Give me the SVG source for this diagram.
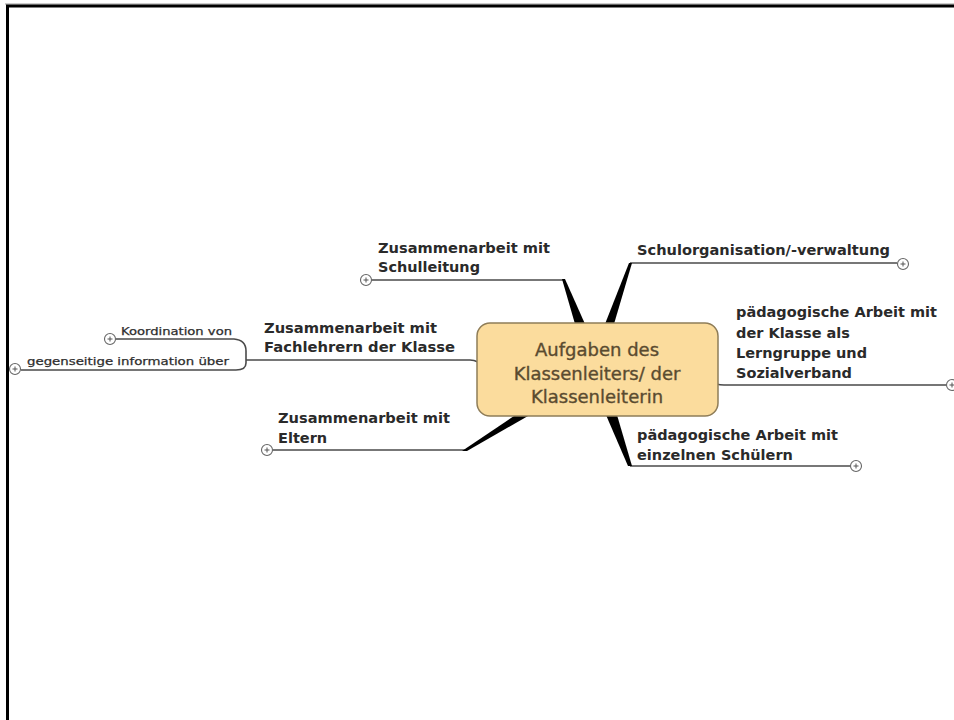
<svg xmlns="http://www.w3.org/2000/svg" width="954" height="720" viewBox="0 0 954 720">
<style>
  .lbl { font-family: "DejaVu Sans", Verdana, sans-serif; font-size: 14.5px; font-weight: bold; fill: #2a2a2a; }
  .sm { font-family: "DejaVu Sans", Verdana, sans-serif; font-size: 10.5px; fill: #2e2e2e; stroke: #2e2e2e; stroke-width: 0.25; }
  .ctr { font-family: "DejaVu Sans", Verdana, sans-serif; font-size: 18px; fill: #5a4b30; stroke: #5a4b30; stroke-width: 0.35; text-anchor: middle; }
  .br { fill: none; stroke: #4a4a4a; stroke-width: 1.6; }
  .wedge { fill: #000; }
  .pl { fill: #fff; stroke: #666; stroke-width: 1.1; }
  .plx { stroke: #555; stroke-width: 1; }
</style>
<defs>
  <g id="plus">
    <circle class="pl" cx="0" cy="0" r="5.5"/>
    <path class="plx" d="M-2.5,0 H2.5 M0,-2.5 V2.5"/>
  </g>
</defs>
<rect x="0" y="0" width="954" height="720" fill="#fff"/>
<g id="frame">
  <line x1="5" y1="4" x2="954" y2="4" stroke="#999" stroke-width="1"/>
  <line x1="6" y1="6" x2="954" y2="6" stroke="#000" stroke-width="3"/>
  <line x1="7.5" y1="5" x2="7.5" y2="720" stroke="#000" stroke-width="3"/>
</g>
<g id="connectors">
  <path class="br" d="M371,280 H563"/>
  <polygon class="wedge" points="562,279 565,279 585,324 575,324"/>
  <path class="br" d="M630,263 H897"/>
  <polygon class="wedge" points="629,263 632,263 614,324 605,324"/>
  <path class="br" d="M716,384 Q720,385 724,385 H946"/>
  <path class="br" d="M630,466 H850"/>
  <polygon class="wedge" points="606,415 617,415 632,466 628,466"/>
  <path class="br" d="M273,450 H465"/>
  <polygon class="wedge" points="462,451 467,451 528,416 514,416"/>
  <path class="br" d="M246,360 H470 Q474,360 478,362"/>
  <path class="br" d="M116,339 H234 Q246,340 246,351 V360"/>
  <path class="br" d="M246,360 V363 Q246,370 236,370 H21"/>
</g>
<g id="node-center">
  <rect x="477" y="323" width="241" height="93" rx="13" ry="13" fill="#fbdc9d" stroke="#8f7d58" stroke-width="1.5"/>
  <text class="ctr" x="597" y="356">Aufgaben des</text>
  <text class="ctr" x="597" y="380">Klassenleiters/ der</text>
  <text class="ctr" x="597" y="403">Klassenleiterin</text>
</g>
<g id="node-schulleitung">
  <text class="lbl" x="378" y="253" textLength="172" lengthAdjust="spacingAndGlyphs">Zusammenarbeit mit</text>
  <text class="lbl" x="378" y="272" textLength="102" lengthAdjust="spacingAndGlyphs">Schulleitung</text>
  <use href="#plus" x="366" y="280"/>
</g>
<g id="node-schulorganisation">
  <text class="lbl" x="637" y="255" textLength="253" lengthAdjust="spacingAndGlyphs">Schulorganisation/-verwaltung</text>
  <use href="#plus" x="903" y="264"/>
</g>
<g id="node-klasse">
  <text class="lbl" x="736" y="317" textLength="201" lengthAdjust="spacingAndGlyphs">pädagogische Arbeit mit</text>
  <text class="lbl" x="736" y="338">der Klasse als</text>
  <text class="lbl" x="736" y="358">Lerngruppe und</text>
  <text class="lbl" x="736" y="378">Sozialverband</text>
  <use href="#plus" x="952" y="385"/>
</g>
<g id="node-schueler">
  <text class="lbl" x="637" y="440" textLength="201" lengthAdjust="spacingAndGlyphs">pädagogische Arbeit mit</text>
  <text class="lbl" x="637" y="460">einzelnen Schülern</text>
  <use href="#plus" x="856" y="466"/>
</g>
<g id="node-eltern">
  <text class="lbl" x="278" y="423" textLength="172" lengthAdjust="spacingAndGlyphs">Zusammenarbeit mit</text>
  <text class="lbl" x="278" y="443">Eltern</text>
  <use href="#plus" x="267" y="450"/>
</g>
<g id="node-fachlehrer">
  <text class="lbl" x="264" y="333" textLength="173" lengthAdjust="spacingAndGlyphs">Zusammenarbeit mit</text>
  <text class="lbl" x="264" y="352" textLength="191" lengthAdjust="spacingAndGlyphs">Fachlehrern der Klasse</text>
</g>
<g id="node-koordination">
  <text class="sm" x="121" y="335" textLength="111" lengthAdjust="spacingAndGlyphs">Koordination von</text>
  <use href="#plus" x="110" y="339"/>
</g>
<g id="node-information">
  <text class="sm" x="27" y="365" textLength="202" lengthAdjust="spacingAndGlyphs">gegenseitige information über</text>
  <use href="#plus" x="15" y="369"/>
</g>
</svg>
